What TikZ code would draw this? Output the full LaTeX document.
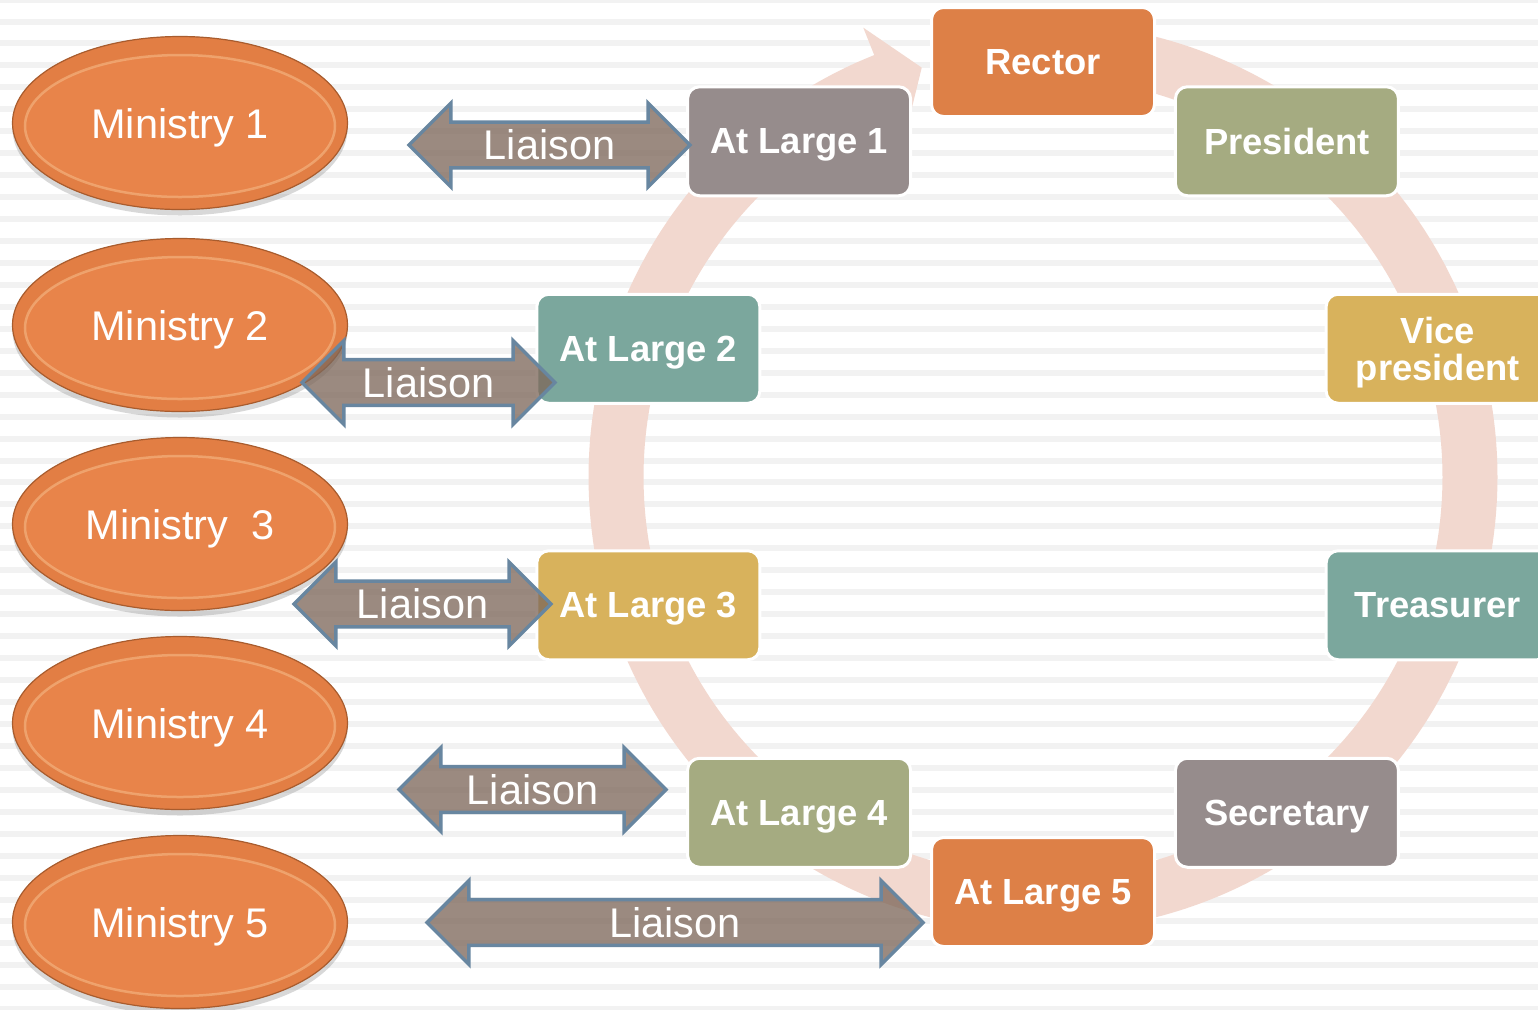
\documentclass[tikz,border=0pt]{standalone}
\usepackage{fontspec}
\setmainfont{Liberation Sans}
\usetikzlibrary{shapes,shadows,positioning,calc}
\definecolor{stripegray}{RGB}{242,242,242}
\definecolor{ringpink}{RGB}{242,216,207}
\definecolor{orange1}{RGB}{221,128,71}
\definecolor{olive}{RGB}{165,171,129}
\definecolor{gold}{RGB}{216,178,92}
\definecolor{teal1}{RGB}{123,167,157}
\definecolor{mauve}{RGB}{150,140,140}
\definecolor{ministrybody}{RGB}{232,132,74}
\definecolor{ministryrim}{RGB}{226,126,68}
\definecolor{ministrylight}{RGB}{247,190,140}
\definecolor{ministryedge}{RGB}{168,92,46}
\definecolor{liaisonfill}{RGB}{126,104,90}
\definecolor{liaisonedge}{RGB}{104,134,160}
\newdimen\pxu
\pxu=0.02cm

\begin{document}
\begin{tikzpicture}
[x=0.02cm, y=-0.02cm,
 office/.style={rectangle, rounded corners=12\pxu, minimum width=223\pxu, minimum height=109\pxu, inner sep=0pt, text depth=0pt, draw=white, line width=3\pxu, text=white, align=center, font=\fontsize{20.7}{21.5}\selectfont\bfseries},
 ministryoval/.style={ellipse, minimum width=335\pxu, minimum height=173\pxu, text depth=0pt, fill=ministrybody, draw=ministryedge, line width=1.2\pxu, text=white, font=\fontsize{23.6}{26}\selectfont,
   drop shadow={shadow xshift=0pt, shadow yshift=-6\pxu, opacity=0.3, fill=gray},
   path picture={
     \fill[ministryrim] (path picture bounding box.center) ellipse [x radius=168\pxu, y radius=87\pxu];
     \fill[ministrybody] ([yshift=-3\pxu]path picture bounding box.center) ellipse [x radius=155\pxu, y radius=71\pxu];
     \draw[ministrylight, line width=2.5\pxu, opacity=0.55] ([yshift=-3\pxu]path picture bounding box.center) ellipse [x radius=155\pxu, y radius=71\pxu];
   }},
 liaison/.style={double arrow, double arrow head extend=19\pxu, double arrow tip angle=90, minimum width=78\pxu, inner xsep=0pt, inner ysep=6\pxu, fill=liaisonfill, fill opacity=0.77, text opacity=1, draw=liaisonedge, line width=3.5\pxu, text=white, font=\fontsize{23.6}{26}\selectfont}]

\useasboundingbox (0,0) rectangle (1538,1009);
\fill[white] (0,0) rectangle (1538,1009);
% striped background
\foreach \n in {-1,...,45}
  \fill[stripegray] (0,{18.5+21.95*\n}) rectangle (1538,{24.5+21.95*\n});

% circular arrow behind the offices
\coordinate (hub) at (1043,477);
\draw[ringpink, line width=55\pxu] plot[domain=-80:248.4, samples=120, smooth] ({1043+427*cos(\x)},{477+427*sin(\x)});
\fill[ringpink, shift={(1043,477)}] (248.2:484) -- (253.5:427) -- (248.2:370) -- cycle;

% offices
\node[office, fill=orange1] (rector) at ([shift={(-90:415)}]hub) {Rector};
\node[office, fill=olive] (president) at ([shift={(-54:415)}]hub) {President};
\node[office, fill=gold] (vicepres) at ([shift={(-18:415)}]hub) {Vice\\president};
\node[office, fill=teal1] (treasurer) at ([shift={(18:415)}]hub) {Treasurer};
\node[office, fill=mauve] (secretary) at ([shift={(54:415)}]hub) {Secretary};
\node[office, fill=orange1] (large5) at ([shift={(90:415)}]hub) {At Large 5};
\node[office, fill=olive] (large4) at ([shift={(126:415)}]hub) {At Large 4};
\node[office, fill=gold] (large3) at ([shift={(162:415)}]hub) {At Large 3};
\node[office, fill=teal1] (large2) at ([shift={(198:415)}]hub) {At Large 2};
\node[office, fill=mauve] (large1) at ([shift={(234:415)}]hub) {At Large 1};

% ministries
\node[ministryoval] (min1) at (180,123) {Ministry 1};
\node[ministryoval] (min2) at (180,325) {Ministry 2};
\node[ministryoval] (min3) at (180,524) {Ministry\ \ 3};
\node[ministryoval] (min4) at (180,723) {Ministry 4};
\node[ministryoval] (min5) at (180,922) {Ministry 5};

% liaisons
\node[liaison, minimum height=281\pxu] (liaison1) at (549.5,145) {Liaison};
\node[liaison, minimum height=253\pxu] (liaison2) at (428.5,382.5) {Liaison};
\node[liaison, minimum height=257\pxu] (liaison3) at (422.5,604) {Liaison};
\node[liaison, minimum height=267\pxu] (liaison4) at (532.5,789.5) {Liaison};
\node[liaison, minimum height=496\pxu] (liaison5) at (675,922.5) {Liaison};
\end{tikzpicture}
\end{document}
